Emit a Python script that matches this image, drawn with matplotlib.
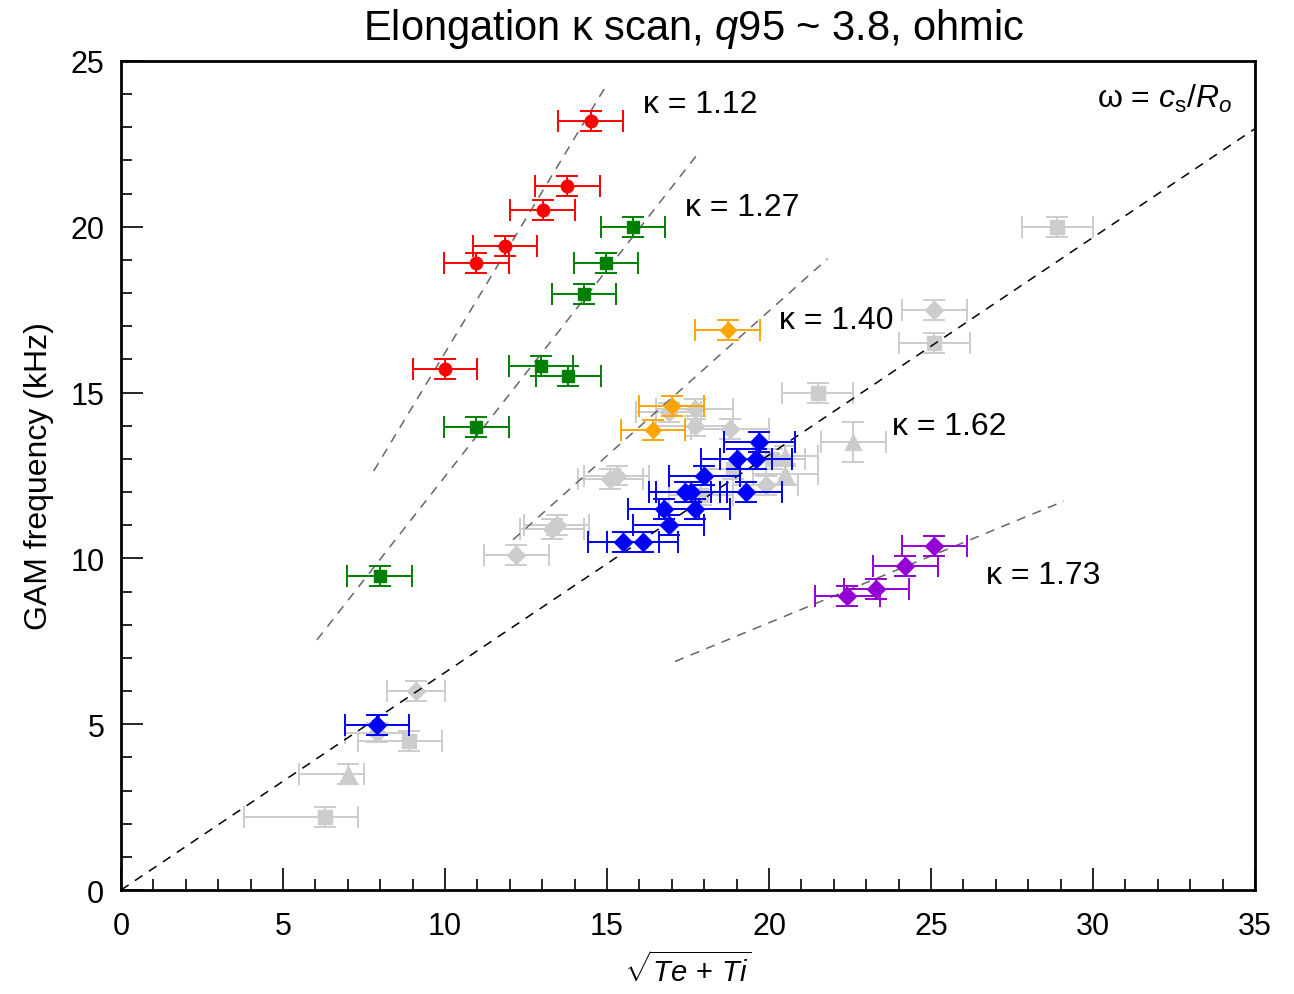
import matplotlib
matplotlib.use("Agg")
import matplotlib.pyplot as plt
from matplotlib.ticker import MultipleLocator

plt.rcParams['font.family'] = ['Liberation Sans', 'DejaVu Sans']
plt.rcParams['mathtext.fontset'] = 'custom'
plt.rcParams['mathtext.rm'] = 'Liberation Sans'
plt.rcParams['mathtext.it'] = 'Liberation Sans:italic'

# kappa = 1.12 (red circles)
k112_x = [10.0, 10.96, 11.85, 13.02, 13.77, 14.5]
k112_y = [15.7, 18.9, 19.42, 20.5, 21.23, 23.2]
k112_xerr = [1.0, 1.0, 1.0, 1.0, 1.0, 1.0]

# kappa = 1.27 (green squares)
k127_x = [7.99, 10.96, 12.96, 13.8, 14.29, 14.97, 15.8]
k127_y = [9.47, 13.96, 15.8, 15.5, 17.97, 18.9, 20.0]
k127_xerr = [1.0, 1.0, 1.0, 1.0, 1.0, 1.0, 1.0]

# kappa = 1.40 (orange diamonds)
k140_x = [16.42, 17.0, 18.73]
k140_y = [13.87, 14.6, 16.89]
k140_xerr = [1.0, 1.0, 1.0]

# kappa = 1.62 (blue diamonds)
k162_x = [7.9, 15.5, 16.1, 16.9, 16.75, 17.7, 17.4, 17.6, 18.0, 19.3, 19.0, 19.6, 19.7]
k162_y = [4.98, 10.5, 10.5, 11.0, 11.5, 11.5, 12.0, 12.0, 12.5, 12.0, 13.0, 13.0, 13.5]
k162_xerr = [1.0, 1.1, 1.1, 1.1, 1.1, 1.1, 1.1, 1.1, 1.1, 1.1, 1.1, 1.1, 1.1]

# kappa = 1.73 (purple diamonds)
k173_x = [22.41, 23.31, 24.21, 25.1]
k173_y = [8.87, 9.07, 9.78, 10.38]
k173_xerr = [1.0, 1.0, 1.0, 1.0]

# other shots (grey)
gs_x = [6.3, 8.9, 18.9, 17.9, 20.1, 21.5, 25.1, 28.9]
gs_y = [2.2, 4.5, 12.7, 11.9, 13.0, 15.0, 16.5, 20.0]
gs_xlo = [2.5, 1.6, 1.0, 1.0, 1.0, 1.1, 1.1, 1.1]
gs_xhi = [1.0, 1.0, 1.0, 1.0, 1.0, 1.1, 1.1, 1.1]
gd_x = [7.9, 9.1, 12.2, 13.3, 13.45, 15.1, 15.3, 16.9, 17.7, 17.7, 18.8, 19.9, 25.1]
gd_y = [4.75, 6.0, 10.1, 10.9, 11.0, 12.4, 12.5, 14.4, 14.5, 14.0, 13.9, 12.2, 17.5]
gd_xerr = [1.0, 0.9, 1.0, 1.0, 1.0, 1.0, 1.0, 1.0, 1.2, 1.2, 1.2, 1.0, 1.0]
gt_x = [7.0, 20.5, 20.5, 22.6]
gt_y = [3.5, 13.1, 12.55, 13.5]
gt_xlo = [1.5, 1.0, 1.0, 1.0]
gt_xhi = [0.5, 1.0, 1.0, 1.0]
gt_yerr = [0.3, 0.3, 0.3, 0.6]

# fit slopes and ranges
slopes = [1.62, 1.247, 0.873, 0.403]
fit_ranges = [(7.8, 15.0), (6.05, 17.75), (12.1, 21.8), (17.1, 29.1)]
cs_slope = 0.656
kappa_labels = ['κ = 1.12', 'κ = 1.27', 'κ = 1.40', 'κ = 1.62', 'κ = 1.73']
label_pos = [(16.1, 23.7), (17.4, 20.6), (20.3, 17.2), (23.8, 14.0), (26.7, 9.5)]

fig = plt.figure(figsize=(12.94, 9.95), dpi=100)
ax = fig.add_axes([0.0935, 0.1045, 0.8764, 0.8332])

grey = '#cccccc'
ekw = dict(linestyle='none', capsize=8, elinewidth=1.4, capthick=1.4)

ax.errorbar(gs_x, gs_y, xerr=[gs_xlo, gs_xhi], yerr=0.3, fmt='s', ms=10, color=grey, zorder=2, **ekw)
ax.errorbar(gd_x, gd_y, xerr=gd_xerr, yerr=0.3, fmt='D', ms=9, color=grey, zorder=2, **ekw)
ax.errorbar(gt_x, gt_y, xerr=[gt_xlo, gt_xhi], yerr=gt_yerr, fmt='^', ms=12, color=grey, zorder=2, **ekw)

ax.errorbar(k112_x, k112_y, xerr=k112_xerr, yerr=0.3, fmt='o', ms=9, color='#ff0000', zorder=4, **ekw)
ax.errorbar(k127_x, k127_y, xerr=k127_xerr, yerr=0.3, fmt='s', ms=8.5, color='#008000', zorder=4, **ekw)
ax.errorbar(k140_x, k140_y, xerr=k140_xerr, yerr=0.3, fmt='D', ms=8, color='#ffa500', zorder=4, **ekw)
ax.errorbar(k162_x, k162_y, xerr=k162_xerr, yerr=0.3, fmt='D', ms=9, color='#0000ff', zorder=4, **ekw)
ax.errorbar(k173_x, k173_y, xerr=k173_xerr, yerr=0.3, fmt='D', ms=9, color='#9400d3', zorder=4, **ekw)

# fit lines
for s, (x0, x1) in zip(slopes, fit_ranges):
    ax.plot([x0, x1], [s * x0, s * x1], color='#666666', lw=1.1, ls=(0, (6, 5)), zorder=3)
ax.plot([0, 35], [0, cs_slope * 35], color='black', lw=1.1, ls=(0, (6, 5)), zorder=3)

for lab, (tx, ty) in zip(kappa_labels, label_pos):
    ax.text(tx, ty, lab, fontsize=23, ha='left', va='center')
ax.text(34.3, 23.9, r'ω = $c_{\rm s}/R_o$', fontsize=23, ha='right', va='center')

ax.set_xlim(0, 35)
ax.set_ylim(0, 25)
ax.xaxis.set_major_locator(MultipleLocator(5))
ax.xaxis.set_minor_locator(MultipleLocator(1))
ax.yaxis.set_major_locator(MultipleLocator(5))
ax.yaxis.set_minor_locator(MultipleLocator(1))
ax.tick_params(which='major', direction='in', length=16, width=1.2, labelsize=22, pad=12)
ax.tick_params(axis='x', which='major', pad=15)
ax.tick_params(which='minor', direction='in', length=8, width=1.2)
ax.tick_params(top=False, right=False)
for sp in ax.spines.values():
    sp.set_linewidth(2)

ax.set_xlabel(r'$\sqrt{Te\,+\,Ti}$', fontsize=21, labelpad=7)
ax.set_ylabel('GAM frequency (kHz)', fontsize=23, labelpad=12)
ax.set_title(r'Elongation κ scan, $q$95 ~ 3.8, ohmic', fontsize=30, pad=16, x=0.505)

fig.savefig('out.png', dpi=100)
